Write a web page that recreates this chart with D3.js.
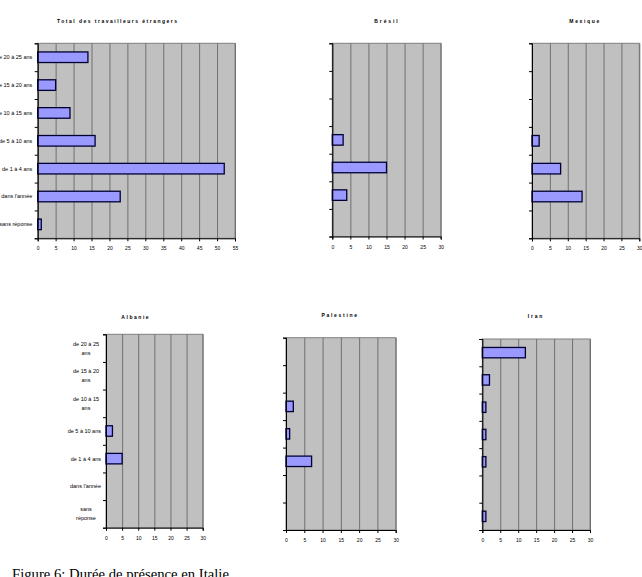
<!DOCTYPE html>
<html>
<head>
<meta charset="utf-8">
<script src="https://cdn.jsdelivr.net/npm/d3@7"></script>
<style>
  html, body { margin: 0; padding: 0; background: #fff; }
  svg { display: block; }
</style>
</head>
<body>
<svg id="chart" width="642" height="577"></svg>
<script>
// ---- Data ----
const categories = ["de 20 à 25 ans", "de 15 à 20 ans", "de 10 à 15 ans", "de 5 à 10 ans", "de 1 à 4 ans", "dans l'année", "sans réponse"];
const categoriesWrapped = [["de 20 à 25", "ans"], ["de 15 à 20", "ans"], ["de 10 à 15", "ans"], ["de 5 à 10 ans"], ["de 1 à 4 ans"], ["dans l'année"], ["sans", "réponse"]];
const titles = ["Total des travailleurs étrangers", "Brésil", "Mexique", "Albanie", "Palestine", "Iran"];
const totalValues     = [14, 5, 9, 16, 52, 23, 1];
const bresilValues    = [0, 0, 0, 3, 15, 4, 0];
const mexiqueValues   = [0, 0, 0, 2, 8, 14, 0];
const albanieValues   = [0, 0, 0, 2, 5, 0, 0];
const palestineValues = [0, 0, 2, 1, 7, 0, 0];
const iranValues      = [12, 2, 1, 1, 1, 0, 1];
const ticksTotal   = [0, 5, 10, 15, 20, 25, 30, 35, 40, 45, 50, 55];
const ticksCountry = [0, 5, 10, 15, 20, 25, 30];
const caption = "Figure 6: Durée de présence en Italie";

// ---- Layout (positions / styles) ----
const panels = [
  { title: titles[0], values: totalValues, ticks: ticksTotal, x0: 37.7, x1: 235, y0: 43.3, y1: 238.3, tx: 117, ty: 23, tw: 120, labels: "single" },
  { title: titles[1], values: bresilValues, ticks: ticksCountry, x0: 332.3, x1: 440.7, y0: 43.3, y1: 236.5, tx: 386, ty: 23, tw: 23.3, labels: "none" },
  { title: titles[2], values: mexiqueValues, ticks: ticksCountry, x0: 532, x1: 639.3, y0: 43.3, y1: 238.3, tx: 584.3, ty: 23, tw: 30, labels: "none" },
  { title: titles[3], values: albanieValues, ticks: ticksCountry, x0: 106, x1: 202.7, y0: 334.3, y1: 527.7, tx: 135, ty: 319, tw: 27.3, labels: "wrapped" },
  { title: titles[4], values: palestineValues, ticks: ticksCountry, x0: 286, x1: 395.7, y0: 337.7, y1: 530, tx: 339.3, ty: 317, tw: 35.7, labels: "none" },
  { title: titles[5], values: iranValues, ticks: ticksCountry, x0: 482.3, x1: 590, y0: 339, y1: 530, tx: 535, ty: 317.5, tw: 14.7, labels: "none" }
];

const svg = d3.select("#chart");
const FONT = "'Liberation Sans', Arial, sans-serif";

panels.forEach(p => {
  const g = svg.append("g");
  const xmax = p.ticks[p.ticks.length - 1];
  const x = d3.scaleLinear().domain([0, xmax]).range([p.x0, p.x1]);
  const y = d3.scaleBand().domain(categories).range([p.y0, p.y1]).padding(0);
  const yb = d3.scaleLinear().domain([0, categories.length]).range([p.y0, p.y1]);

  // background
  g.append("rect")
    .attr("x", p.x0).attr("y", p.y0)
    .attr("width", p.x1 - p.x0).attr("height", p.y1 - p.y0)
    .attr("fill", "#c0c0c0")
    .attr("stroke", "#808080").attr("stroke-width", 1);

  // gridlines
  const grid = g.append("g")
    .attr("transform", `translate(0,${p.y1})`)
    .call(d3.axisBottom(x).tickValues(p.ticks).tickSize(-(p.y1 - p.y0)).tickFormat(""));
  grid.select(".domain").remove();
  grid.selectAll("line").attr("stroke", "#707070").attr("stroke-width", 1);

  // bars
  const bh = y.bandwidth() * 0.38;
  g.selectAll("rect.bar")
    .data(categories.map((c, i) => ({ c, v: p.values[i] })).filter(d => d.v > 0))
    .enter().append("rect")
    .attr("class", "bar")
    .attr("x", x(0))
    .attr("y", d => y(d.c) + y.bandwidth() / 2 - bh / 2)
    .attr("width", d => x(d.v) - x(0))
    .attr("height", bh)
    .attr("fill", "#9999ff")
    .attr("stroke", "#000033")
    .attr("stroke-width", 1.3);

  // x axis
  const xa = g.append("g")
    .attr("transform", `translate(0,${p.y1})`)
    .call(d3.axisBottom(x).tickValues(p.ticks).tickSize(3).tickPadding(5.5));
  xa.select(".domain").attr("stroke", "#000").attr("stroke-width", 1);
  xa.selectAll("line").attr("stroke", "#000");
  xa.selectAll("text").attr("font-family", FONT).attr("font-size", 5).attr("fill", "#000");

  // y axis (ticks at band boundaries)
  const ya = g.append("g")
    .attr("transform", `translate(${p.x0},0)`)
    .call(d3.axisLeft(yb).tickValues(d3.range(categories.length + 1)).tickSize(3).tickFormat(""));
  ya.select(".domain").attr("stroke", "#000").attr("stroke-width", 1);
  ya.selectAll("line").attr("stroke", "#000");

  // category labels
  if (p.labels === "single") {
    g.selectAll("text.cat").data(categories).enter().append("text")
      .attr("class", "cat")
      .attr("x", p.x0 - 5.4)
      .attr("y", d => y(d) + y.bandwidth() / 2 + 1.9)
      .attr("text-anchor", "end")
      .attr("font-family", FONT).attr("font-size", 5.5).attr("fill", "#000")
      .text(d => d);
  } else if (p.labels === "wrapped") {
    categoriesWrapped.forEach((lines, i) => {
      const cy = y(categories[i]) + y.bandwidth() / 2;
      const n = lines.length;
      lines.forEach((ln, j) => {
        g.append("text")
          .attr("x", n > 1 ? p.x0 - 20 : p.x0 - 5)
          .attr("y", cy + 1.9 + (j - (n - 1) / 2) * 9)
          .attr("text-anchor", n > 1 ? "middle" : "end")
          .attr("font-family", FONT).attr("font-size", 5.5).attr("fill", "#000")
          .text(ln);
      });
    });
  }

  // title
  g.append("text")
    .attr("x", p.tx).attr("y", p.ty)
    .attr("text-anchor", "middle")
    .attr("font-family", FONT).attr("font-size", 5).attr("font-weight", "bold")
    .attr("fill", "#000")
    .attr("textLength", p.tw).attr("lengthAdjust", "spacing")
    .text(p.title);
});

// caption
svg.append("text")
  .attr("x", 12).attr("y", 578.5)
  .attr("font-family", "'Liberation Serif', 'Times New Roman', serif")
  .attr("font-size", 14.7).attr("fill", "#000")
  .text(caption);
</script>
</body>
</html>
